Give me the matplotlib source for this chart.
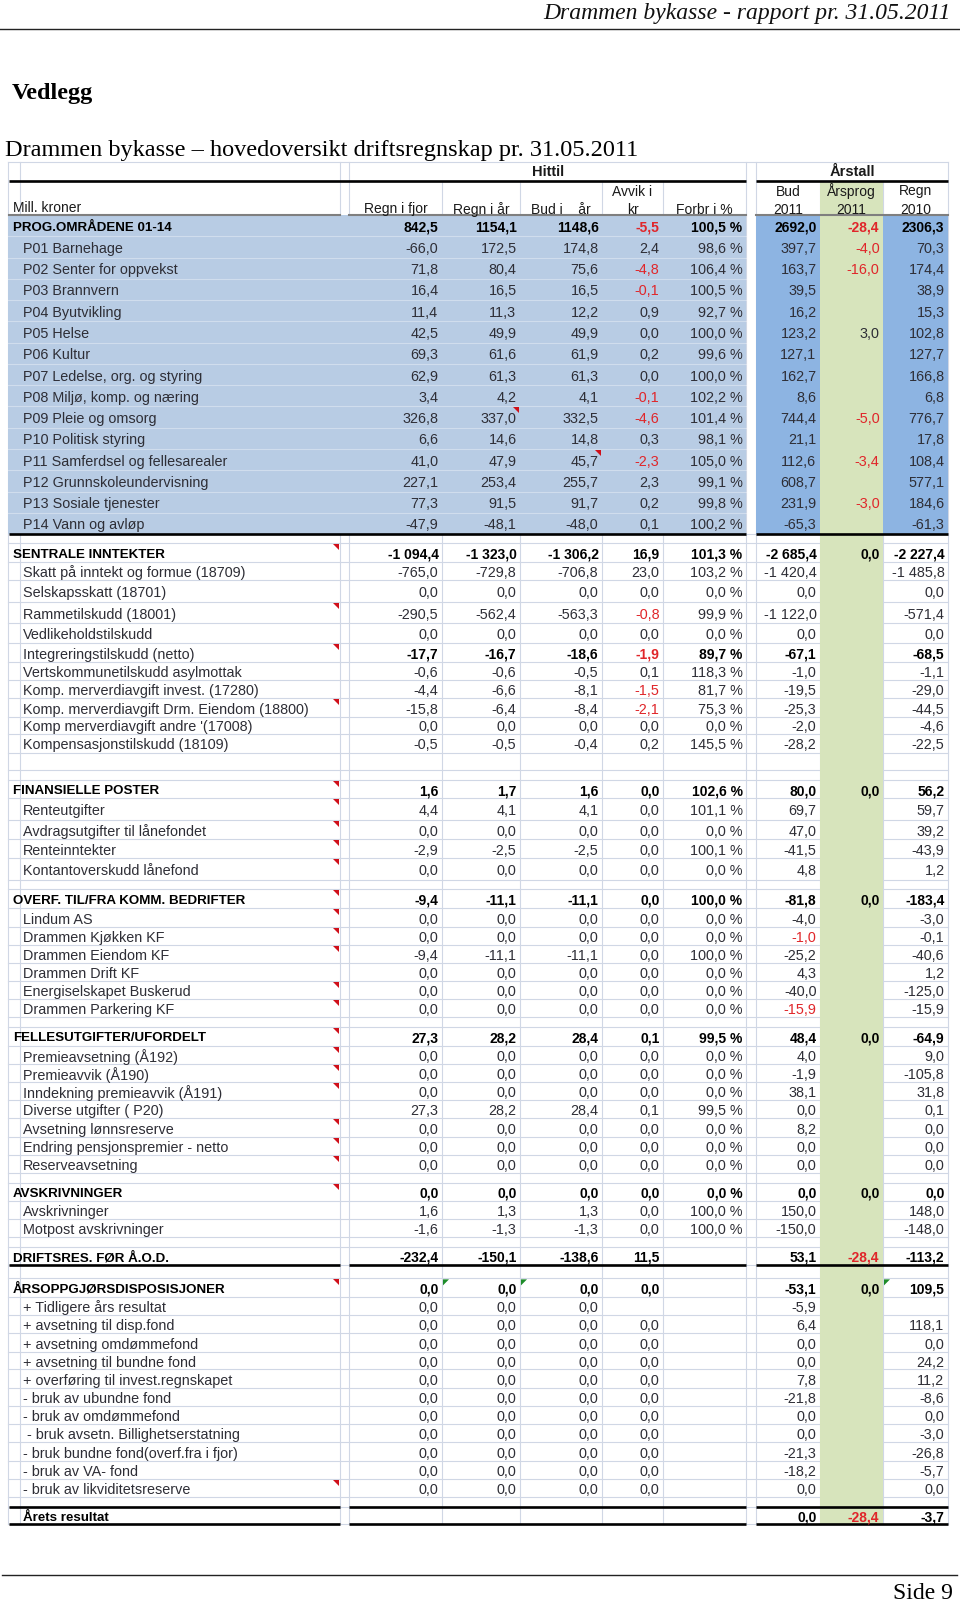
import matplotlib
matplotlib.use("Agg")
import matplotlib.pyplot as plt
from matplotlib.patches import Rectangle, Polygon

N = None

# --- data ---
labels = [
    "PROG.OMRÅDENE 01-14", "P01 Barnehage", "P02 Senter for oppvekst", "P03 Brannvern",
    "P04 Byutvikling", "P05 Helse", "P06 Kultur", "P07 Ledelse, org. og styring",
    "P08 Miljø, komp. og næring", "P09 Pleie og omsorg", "P10 Politisk styring",
    "P11 Samferdsel og fellesarealer", "P12 Grunnskoleundervisning", "P13 Sosiale tjenester",
    "P14 Vann og avløp",
    "", "SENTRALE INNTEKTER", "Skatt på inntekt og formue (18709)", "Selskapsskatt (18701)",
    "Rammetilskudd (18001)", "Vedlikeholdstilskudd", "Integreringstilskudd (netto)",
    "Vertskommunetilskudd asylmottak", "Komp. merverdiavgift invest. (17280)",
    "Komp. merverdiavgift Drm. Eiendom (18800)", "Komp merverdiavgift andre '(17008)",
    "Kompensasjonstilskudd (18109)",
    "", "", "FINANSIELLE POSTER", "Renteutgifter", "Avdragsutgifter til lånefondet",
    "Renteinntekter", "Kontantoverskudd lånefond",
    "", "OVERF. TIL/FRA KOMM. BEDRIFTER", "Lindum AS", "Drammen Kjøkken KF",
    "Drammen Eiendom KF", "Drammen Drift KF", "Energiselskapet Buskerud", "Drammen Parkering KF",
    "", "FELLESUTGIFTER/UFORDELT", "Premieavsetning (Å192)", "Premieavvik (Å190)",
    "Inndekning premieavvik (Å191)", "Diverse utgifter ( P20)", "Avsetning lønnsreserve",
    "Endring pensjonspremier - netto", "Reserveavsetning",
    "", "AVSKRIVNINGER", "Avskrivninger", "Motpost avskrivninger",
    "", "DRIFTSRES. FØR Å.O.D.",
    "", "ÅRSOPPGJØRSDISPOSISJONER", "+ Tidligere års resultat", "+ avsetning til disp.fond",
    "+ avsetning omdømmefond", "+ avsetning til bundne fond", "+ overføring til invest.regnskapet",
    "- bruk av ubundne fond", "- bruk av omdømmefond", " - bruk avsetn. Billighetserstatning",
    "- bruk bundne fond(overf.fra i fjor)", "- bruk av VA- fond", "- bruk av likviditetsreserve",
    "", "Årets resultat",
]

regn_fjor = [842.5, -66.0, 71.8, 16.4, 11.4, 42.5, 69.3, 62.9, 3.4, 326.8, 6.6, 41.0, 227.1, 77.3, -47.9,
             N, -1094.4, -765.0, 0.0, -290.5, 0.0, -17.7, -0.6, -4.4, -15.8, 0.0, -0.5,
             N, N, 1.6, 4.4, 0.0, -2.9, 0.0,
             N, -9.4, 0.0, 0.0, -9.4, 0.0, 0.0, 0.0,
             N, 27.3, 0.0, 0.0, 0.0, 27.3, 0.0, 0.0, 0.0,
             N, 0.0, 1.6, -1.6,
             N, -232.4,
             N, 0.0, 0.0, 0.0, 0.0, 0.0, 0.0, 0.0, 0.0, 0.0, 0.0, 0.0, 0.0,
             N, N]

regn_aar = [1154.1, 172.5, 80.4, 16.5, 11.3, 49.9, 61.6, 61.3, 4.2, 337.0, 14.6, 47.9, 253.4, 91.5, -48.1,
            N, -1323.0, -729.8, 0.0, -562.4, 0.0, -16.7, -0.6, -6.6, -6.4, 0.0, -0.5,
            N, N, 1.7, 4.1, 0.0, -2.5, 0.0,
            N, -11.1, 0.0, 0.0, -11.1, 0.0, 0.0, 0.0,
            N, 28.2, 0.0, 0.0, 0.0, 28.2, 0.0, 0.0, 0.0,
            N, 0.0, 1.3, -1.3,
            N, -150.1,
            N, 0.0, 0.0, 0.0, 0.0, 0.0, 0.0, 0.0, 0.0, 0.0, 0.0, 0.0, 0.0,
            N, N]

bud_aar = [1148.6, 174.8, 75.6, 16.5, 12.2, 49.9, 61.9, 61.3, 4.1, 332.5, 14.8, 45.7, 255.7, 91.7, -48.0,
           N, -1306.2, -706.8, 0.0, -563.3, 0.0, -18.6, -0.5, -8.1, -8.4, 0.0, -0.4,
           N, N, 1.6, 4.1, 0.0, -2.5, 0.0,
           N, -11.1, 0.0, 0.0, -11.1, 0.0, 0.0, 0.0,
           N, 28.4, 0.0, 0.0, 0.0, 28.4, 0.0, 0.0, 0.0,
           N, 0.0, 1.3, -1.3,
           N, -138.6,
           N, 0.0, 0.0, 0.0, 0.0, 0.0, 0.0, 0.0, 0.0, 0.0, 0.0, 0.0, 0.0,
           N, N]

avvik = [-5.5, 2.4, -4.8, -0.1, 0.9, 0.0, 0.2, 0.0, -0.1, -4.6, 0.3, -2.3, 2.3, 0.2, 0.1,
         N, 16.9, 23.0, 0.0, -0.8, 0.0, -1.9, 0.1, -1.5, -2.1, 0.0, 0.2,
         N, N, 0.0, 0.0, 0.0, 0.0, 0.0,
         N, 0.0, 0.0, 0.0, 0.0, 0.0, 0.0, 0.0,
         N, 0.1, 0.0, 0.0, 0.0, 0.1, 0.0, 0.0, 0.0,
         N, 0.0, 0.0, 0.0,
         N, 11.5,
         N, 0.0, N, 0.0, 0.0, 0.0, 0.0, 0.0, 0.0, 0.0, 0.0, 0.0, 0.0,
         N, N]

forbr = [100.5, 98.6, 106.4, 100.5, 92.7, 100.0, 99.6, 100.0, 102.2, 101.4, 98.1, 105.0, 99.1, 99.8, 100.2,
         N, 101.3, 103.2, 0.0, 99.9, 0.0, 89.7, 118.3, 81.7, 75.3, 0.0, 145.5,
         N, N, 102.6, 101.1, 0.0, 100.1, 0.0,
         N, 100.0, 0.0, 0.0, 100.0, 0.0, 0.0, 0.0,
         N, 99.5, 0.0, 0.0, 0.0, 99.5, 0.0, 0.0, 0.0,
         N, 0.0, 100.0, 100.0,
         N, N,
         N, N, N, N, N, N, N, N, N, N, N, N, N,
         N, N]

bud_2011 = [2692.0, 397.7, 163.7, 39.5, 16.2, 123.2, 127.1, 162.7, 8.6, 744.4, 21.1, 112.6, 608.7, 231.9, -65.3,
            N, -2685.4, -1420.4, 0.0, -1122.0, 0.0, -67.1, -1.0, -19.5, -25.3, -2.0, -28.2,
            N, N, 80.0, 69.7, 47.0, -41.5, 4.8,
            N, -81.8, -4.0, -1.0, -25.2, 4.3, -40.0, -15.9,
            N, 48.4, 4.0, -1.9, 38.1, 0.0, 8.2, 0.0, 0.0,
            N, 0.0, 150.0, -150.0,
            N, 53.1,
            N, -53.1, -5.9, 6.4, 0.0, 0.0, 7.8, -21.8, 0.0, 0.0, -21.3, -18.2, 0.0,
            N, 0.0]

arsprog = [-28.4, -4.0, -16.0, N, N, 3.0, N, N, N, -5.0, N, -3.4, N, -3.0, N,
           N, 0.0, N, N, N, N, N, N, N, N, N, N,
           N, N, 0.0, N, N, N, N,
           N, 0.0, N, N, N, N, N, N,
           N, 0.0, N, N, N, N, N, N, N,
           N, 0.0, N, N,
           N, -28.4,
           N, 0.0, N, N, N, N, N, N, N, N, N, N, N,
           N, -28.4]

regn_2010 = [2306.3, 70.3, 174.4, 38.9, 15.3, 102.8, 127.7, 166.8, 6.8, 776.7, 17.8, 108.4, 577.1, 184.6, -61.3,
             N, -2227.4, -1485.8, 0.0, -571.4, 0.0, -68.5, -1.1, -29.0, -44.5, -4.6, -22.5,
             N, N, 56.2, 59.7, 39.2, -43.9, 1.2,
             N, -183.4, -3.0, -0.1, -40.6, 1.2, -125.0, -15.9,
             N, -64.9, 9.0, -105.8, 31.8, 0.1, 0.0, 0.0, 0.0,
             N, 0.0, 148.0, -148.0,
             N, -113.2,
             N, 109.5, N, 118.1, 0.0, 24.2, 11.2, -8.6, 0.0, -3.0, -26.8, -5.7, 0.0,
             N, -3.7]

header_cols = [["Regn i fjor"], ["Regn i år"], ["Bud i    år"], ["Avvik i", "kr"], ["Forbr i %"],
               ["Bud", "2011"], ["Årsprog", "2011"], ["Regn", "2010"]]

bold_rows = [0, 16, 29, 35, 43, 52, 56, 58, 71]
top_level = [0, 16, 29, 35, 43, 52, 56, 58]
bold_value_rows = [21]
red_extra = [(37, 5), (41, 5)]           # (row, column) shown in red in Bud 2011
comment_rows = [16, 19, 21, 24, 29, 30, 31, 32, 33, 35, 36, 37, 38, 40, 41,
                43, 44, 45, 46, 48, 49, 50, 52, 58, 69]
comment_cells = [(9, 1), (11, 2)]
green_cells = [(58, 1), (58, 2), (58, 7)]

columns = [regn_fjor, regn_aar, bud_aar, avvik, forbr, bud_2011, arsprog, regn_2010]

# --- layout (pixels) ---
W, H = 960, 1603
col_left = [349, 442, 520, 602, 663, 756, 820, 883]
col_right = [442, 520, 602, 663, 746, 820, 883, 948]
row_h = [21.27] * 15 + [
    9.3, 18.4, 18.3, 21.7, 21.6, 20.0, 18.4, 18.3, 18.3, 18.4, 17.3, 18.7,
    17.3, 10.0, 18.3, 21.7, 19.3, 19.0, 21.7,
    9.3, 19.0, 18.4, 18.3, 18.3, 17.7, 18.3, 18.0,
    9.4, 19.0, 18.3, 18.3, 17.7, 18.3, 18.4, 18.3, 17.7,
    10.0, 18.0, 18.3, 18.3,
    9.4, 18.3,
    13.3, 18.4, 18.3, 18.3, 18.4, 17.6, 18.4, 18.3, 18.0, 18.3, 18.4, 18.3, 17.7,
    10.0, 17.6]

tops = [215.0]
for h in row_h:
    tops.append(tops[-1] + h)

SANS = ["Liberation Sans", "DejaVu Sans"]
SERIF = ["Liberation Serif", "DejaVu Serif"]
GRID = "#d0d7e5"
LBLUE = "#b8cce4"
DBLUE = "#8db4e2"
GREEN = "#d7e4bc"
RED = "#e0262a"
TXT = "#2e2e36"


def fmt(v, pct=False, group=True):
    if v is None:
        return ""
    s = f"{v:,.1f}" if group else f"{v:.1f}"
    s = s.replace(",", " ").replace(".", ",")
    return s + " %" if pct else s


fig = plt.figure(figsize=(W / 100, H / 100), dpi=100)
ax = fig.add_axes([0, 0, 1, 1])
ax.set_xlim(0, W)
ax.set_ylim(H, 0)
ax.axis("off")

# page header / footer
ax.text(951, 19, "Drammen bykasse - rapport pr. 31.05.2011", family=SERIF, style="italic",
        fontsize=17, ha="right", va="baseline", color="#111111")
ax.plot([0, W], [29, 29], color="#222222", lw=1.0)
ax.text(12, 99, "Vedlegg", family=SERIF, weight="bold", fontsize=17.5, ha="left", va="baseline")
ax.text(5, 156, "Drammen bykasse – hovedoversikt driftsregnskap pr. 31.05.2011", family=SERIF,
        fontsize=17.5, ha="left", va="baseline")
ax.plot([2, 957], [1575, 1575], color="#222222", lw=1.0)
ax.text(953, 1599, "Side 9", family=SERIF, fontsize=17, ha="right", va="baseline")

y_end = tops[-1]

# gridlines (merged "Hittil"/"Årstall" row has no inner column lines)
for x in [8, 20, 340, 349, 746, 756, 948]:
    ax.plot([x, x], [162, y_end], color=GRID, lw=0.8, zorder=1)
for x in col_left[1:5] + col_left[6:]:
    ax.plot([x, x], [181, y_end], color=GRID, lw=0.8, zorder=1)
for y in tops[15:]:
    ax.plot([8, 948], [y, y], color=GRID, lw=0.8, zorder=1)
ax.plot([8, 948], [162, 162], color=GRID, lw=0.8, zorder=1)

# fills
blue_bottom = tops[15]
ax.add_patch(Rectangle((8, 215), 738, blue_bottom - 215, facecolor=LBLUE, edgecolor="none", zorder=2))
ax.add_patch(Rectangle((756, 215), 64, blue_bottom - 215, facecolor=DBLUE, edgecolor="none", zorder=2))
ax.add_patch(Rectangle((883, 215), 65, blue_bottom - 215, facecolor=DBLUE, edgecolor="none", zorder=2))
ax.add_patch(Rectangle((820, 181), 63, y_end - 181, facecolor=GREEN, edgecolor="none", zorder=2))
for y in tops[1:15]:
    ax.plot([8, 746], [y, y], color="white", lw=0.8, alpha=0.35, zorder=2.1)

# heavy rules
def rule(y, gap=False, color="black", lw=1.9):
    segs = [(9, 340), (349, 746)] if gap else [(9, 746)]
    for a, b in segs + [(756, 948)]:
        ax.plot([a, b], [y, y], color=color, lw=lw, zorder=4, solid_capstyle="butt")

rule(181)
ax.plot([9, 340], [215, 215], color="#7f7f7f", lw=1.5, zorder=4)
ax.plot([349, 746], [215, 215], color="#7f7f7f", lw=1.5, zorder=4)
ax.plot([756, 948], [215, 215], color="#7f7f7f", lw=1.5, zorder=4)
rule(blue_bottom)
rule(tops[57], gap=True)
rule(tops[71], gap=True)
rule(tops[72], gap=True)

# headers
ax.text(548, 171, "Hittil", family=SANS, weight="bold", fontsize=10.5, ha="center",
        va="center_baseline", color="#1a1a1a", zorder=5)
ax.text(852, 171, "Årstall", family=SANS, weight="bold", fontsize=10.5, ha="center",
        va="center_baseline", color="#1a1a1a", zorder=5)
ax.text(13, 207, "Mill. kroner", family=SANS, fontsize=10, ha="left", va="center_baseline",
        color="#1a1a1a", zorder=5)
for j, lines in enumerate(header_cols):
    cx = (col_left[j] + col_right[j]) / 2
    ys = [190, 208] if len(lines) == 2 else [208]
    for txt, y in zip(lines, ys):
        ax.text(cx, y, txt, family=SANS, fontsize=10, ha="center", va="center_baseline",
                color="#1a1a1a", zorder=5)

# body
for i, lab in enumerate(labels):
    yc = (tops[i] + tops[i + 1]) / 2 + 0.5
    bold = i in bold_rows
    if lab:
        x = 13 if i in top_level else 23
        ax.text(x, yc, lab, family=SANS, fontsize=9.6 if bold else 10.4,
                weight="bold" if bold else "normal", color="black" if bold else TXT,
                ha="left", va="center_baseline", zorder=5)
    for j, col in enumerate(columns):
        v = col[i]
        if v is None:
            continue
        s = fmt(v, pct=(j == 4), group=(i >= 15))
        red = (j in (3, 6) and v < 0) or (i, j) in red_extra
        vb = bold or i in bold_value_rows
        ax.text(col_right[j] - 3.5, yc, s, family=SANS, fontsize=10 if vb else 10.4,
                weight="bold" if vb else "normal",
                color=RED if red else ("black" if vb else TXT),
                ha="right", va="center_baseline", zorder=5)

# comment markers
for i in comment_rows:
    t = tops[i] + 1
    ax.add_patch(Polygon([(333, t), (339, t), (339, t + 6)], closed=True, facecolor="#d0101a",
                         edgecolor="none", zorder=6))
for i, j in comment_cells:
    t = tops[i] + 1
    r = col_right[j] - 1
    ax.add_patch(Polygon([(r - 6, t), (r, t), (r, t + 6)], closed=True, facecolor="#d0101a",
                         edgecolor="none", zorder=6))
for i, j in green_cells:
    t = tops[i] + 1
    l = col_left[j] + 1
    ax.add_patch(Polygon([(l, t), (l + 6, t), (l, t + 6)], closed=True, facecolor="#1e8c2a",
                         edgecolor="none", zorder=6))

fig.savefig("out.png", dpi=100)
